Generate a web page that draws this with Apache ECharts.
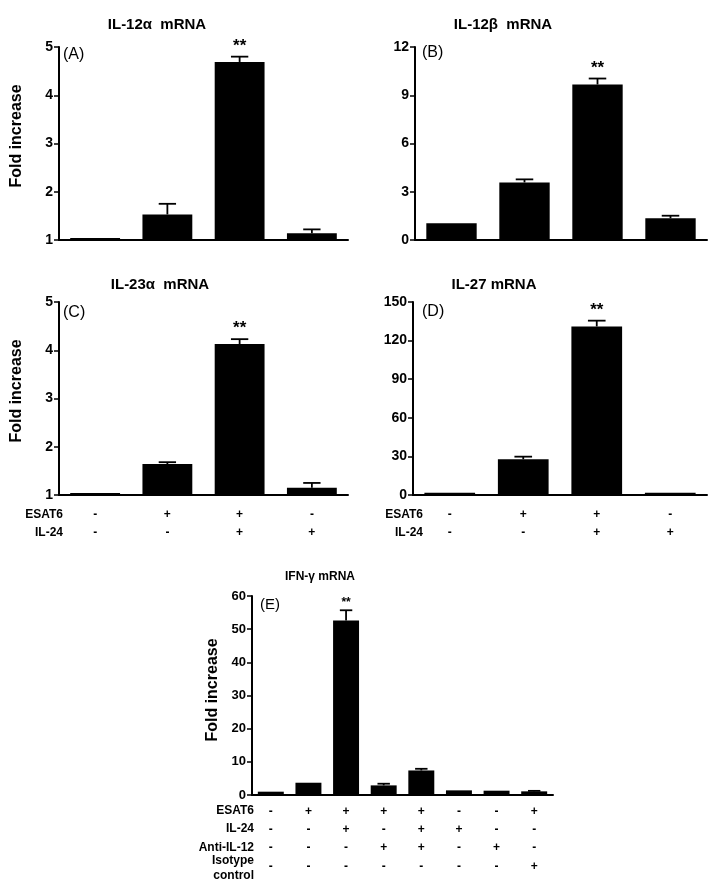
<!DOCTYPE html>
<html>
<head>
<meta charset="utf-8">
<script src="https://cdn.jsdelivr.net/npm/echarts@6/dist/echarts.min.js"></script>
<style>
html,body{margin:0;padding:0;background:#fff;}
#chart{width:717px;height:886px;}
</style>
</head>
<body>
<div id="chart"></div>
<script>
// ---- data ----
const catsABCD = ['1', '2', '3', '4'];
const catsE = ['1', '2', '3', '4', '5', '6', '7', '8'];

const valA = [1.04, 1.53, 4.69, 1.14];
const semA = [0, 0.22, 0.11, 0.08];
const sigA = ['', '', '**', ''];

const valB = [1.04, 3.58, 9.67, 1.35];
const semB = [0, 0.19, 0.37, 0.16];
const sigB = ['', '', '**', ''];

const valC = [1.04, 1.64, 4.13, 1.15];
const semC = [0, 0.04, 0.10, 0.10];
const sigC = ['', '', '**', ''];

const valD = [1.8, 27.8, 131, 1.8];
const semD = [0, 2.0, 4.5, 0];
const sigD = ['', '', '**', ''];

const valE = [1.0, 3.7, 52.6, 2.9, 7.4, 1.4, 1.3, 1.1];
const semE = [0, 0, 3.1, 0.5, 0.5, 0, 0, 0.15];
const sigE = ['', '', '**', '', '', '', '', ''];

const esat6CD = ['-', '+', '+', '-'];
const il24CD = ['-', '-', '+', '+'];

const esat6E = ['-', '+', '+', '+', '+', '-', '-', '+'];
const il24E = ['-', '-', '+', '-', '+', '+', '-', '-'];
const antiE = ['-', '-', '-', '+', '+', '-', '+', '-'];
const isoE = ['-', '-', '-', '-', '-', '-', '-', '+'];

const titles = ['IL-12\u03b1  mRNA', 'IL-12\u03b2  mRNA', 'IL-23\u03b1  mRNA', 'IL-27 mRNA', 'IFN-\u03b3 mRNA'];
const panelTags = ['(A)', '(B)', '(C)', '(D)', '(E)'];

// ---- layout ----
const FF = '"Liberation Sans", Arial, sans-serif';
const grids = [
  {left: 59, top: 47, width: 289, height: 193},
  {left: 415, top: 47, width: 292, height: 193},
  {left: 59, top: 302, width: 289, height: 193},
  {left: 413, top: 302, width: 294, height: 193},
  {left: 252, top: 596, width: 301, height: 199}
];
const yRanges = [
  {min: 1, max: 5, interval: 1},
  {min: 0, max: 12, interval: 3},
  {min: 1, max: 5, interval: 1},
  {min: 0, max: 150, interval: 30},
  {min: 0, max: 60, interval: 10}
];
const panels = [
  {cats: catsABCD, val: valA, sem: semA, sig: sigA, rows: null, cap: 0.24, star: 17},
  {cats: catsABCD, val: valB, sem: semB, sig: sigB, rows: null, cap: 0.24, star: 17},
  {cats: catsABCD, val: valC, sem: semC, sig: sigC, rows: [esat6CD, il24CD], cap: 0.24, star: 17},
  {cats: catsABCD, val: valD, sem: semD, sig: sigD, rows: [esat6CD, il24CD], cap: 0.24, star: 17},
  {cats: catsE, val: valE, sem: semE, sig: sigE, rows: [esat6E, il24E, antiE, isoE], cap: 0.33, star: 12}
];

const option = {
  backgroundColor: '#fff',
  animation: false,
  grid: grids.map(g => Object.assign({containLabel: false}, g)),
  xAxis: [], yAxis: [], series: [], graphic: []
};

panels.forEach((p, i) => {
  const rows = p.rows;
  option.xAxis.push({
    type: 'category', gridIndex: i, data: p.cats,
    axisLine: {lineStyle: {color: '#000', width: 2}},
    axisTick: {show: false},
    axisLabel: rows ? {
      show: true, interval: 0, color: '#000', fontWeight: 'bold', fontSize: 12, fontFamily: FF,
      lineHeight: i === 4 ? 18.4 : 17.7, margin: i === 4 ? 7 : 11,
      formatter: (v, idx) => rows.map(r => r[idx]).join('\n')
    } : {show: false}
  });
  option.yAxis.push({
    type: 'value', gridIndex: i, min: yRanges[i].min, max: yRanges[i].max, interval: yRanges[i].interval,
    splitLine: {show: false},
    axisLine: {show: true, lineStyle: {color: '#000', width: 2}},
    axisTick: {show: true, length: 5, lineStyle: {color: '#000', width: 1.5}},
    axisLabel: {color: '#000', fontWeight: 'bold', fontSize: i === 4 ? 13 : 14, fontFamily: FF, margin: 6}
  });
  option.series.push({
    type: 'bar', xAxisIndex: i, yAxisIndex: i, data: p.val,
    barWidth: '69%',
    itemStyle: {color: '#000'}, z: 2
  });
  const errData = p.val.map((v, k) => [k, v, v + p.sem[k], p.sem[k], k]);
  option.series.push({
    type: 'custom', xAxisIndex: i, yAxisIndex: i, data: errData, z: 3,
    encode: {x: 0, y: [1, 2]},
    renderItem: (params, api) => {
      const k = api.value(0);
      const v = api.value(1), top = api.value(2), s = api.value(3);
      const p0 = api.coord([k, v]);
      const p1 = api.coord([k, top]);
      const half = api.size([1, 0])[0] * p.cap / 2;
      const children = [];
      if (s > 0) {
        children.push({type: 'line', shape: {x1: p0[0], y1: p0[1], x2: p1[0], y2: p1[1]}, style: {stroke: '#000', lineWidth: 1.8}});
        children.push({type: 'line', shape: {x1: p1[0] - half, y1: p1[1], x2: p1[0] + half, y2: p1[1]}, style: {stroke: '#000', lineWidth: 1.8}});
      }
      const sg = p.sig[params.dataIndex];
      if (sg) {
        children.push({type: 'text', x: p1[0], y: p1[1] - 2, style: {text: sg, fill: '#000', font: 'bold ' + p.star + 'px ' + FF, textAlign: 'center', textVerticalAlign: 'bottom'}});
      }
      return {type: 'group', children: children};
    }
  });
});

// titles
const titlePos = [[157, 25], [503, 25], [160, 285], [494, 285], [320, 577]];
titles.forEach((t, i) => {
  option.graphic.push({type: 'text', x: titlePos[i][0], y: titlePos[i][1],
    style: {text: t, fill: '#000', font: 'bold ' + (i === 4 ? 12 : 15) + 'px ' + FF, textAlign: 'center', textVerticalAlign: 'middle'}});
});
// panel tags
const tagPos = [[63, 55], [422, 53], [63, 313], [422, 312], [260, 605]];
panelTags.forEach((t, i) => {
  option.graphic.push({type: 'text', x: tagPos[i][0], y: tagPos[i][1],
    style: {text: t, fill: '#000', font: (i === 4 ? 15 : 16) + 'px ' + FF, textAlign: 'left', textVerticalAlign: 'middle'}});
});
// y axis names
const ynamePos = [[17, 136], [17, 391], [213, 690]];
ynamePos.forEach(pp => {
  option.graphic.push({type: 'text', x: pp[0], y: pp[1], rotation: Math.PI / 2,
    style: {text: 'Fold increase', fill: '#000', font: 'bold 16px ' + FF, textAlign: 'center', textVerticalAlign: 'middle'}});
});
// row names
const rowNames = [
  {t: 'ESAT6', x: 63, y: 515}, {t: 'IL-24', x: 63, y: 533},
  {t: 'ESAT6', x: 423, y: 515}, {t: 'IL-24', x: 423, y: 533},
  {t: 'ESAT6', x: 254, y: 811}, {t: 'IL-24', x: 254, y: 829},
  {t: 'Anti-IL-12', x: 254, y: 848}, {t: 'Isotype\ncontrol', x: 254, y: 868}
];
rowNames.forEach(r => {
  option.graphic.push({type: 'text', x: r.x, y: r.y,
    style: {text: r.t, fill: '#000', font: 'bold 12px ' + FF, textAlign: 'right', textVerticalAlign: 'middle', lineHeight: 15}});
});

const chart = echarts.init(document.getElementById('chart'), null, {renderer: 'canvas'});
chart.setOption(option);
</script>
</body>
</html>
